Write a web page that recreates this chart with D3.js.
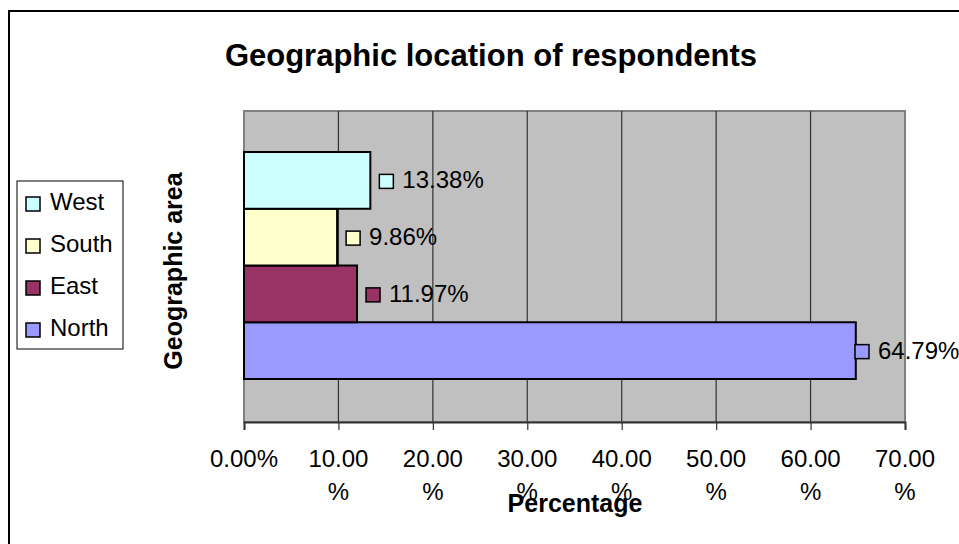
<!DOCTYPE html>
<html>
<head>
<meta charset="utf-8">
<script src="https://cdn.jsdelivr.net/npm/d3@7"></script>
<style>
  body { margin: 0; background: #fff; }
  text { font-family: "Liberation Sans", Arial, sans-serif; fill: #000; }
</style>
</head>
<body>
<div id="chart"></div>
<script>
// chart data
var regions = ["North", "East", "South", "West"];
var percents = [64.79, 11.97, 9.86, 13.38];
var colors = ["#9999ff", "#993366", "#ffffcc", "#ccffff"];
var legendOrder = ["West", "South", "East", "North"];
var xTicks = [0, 10, 20, 30, 40, 50, 60, 70];

var svgWidth = 959;
var svgHeight = 544;

var plot = { left: 244, right: 905, top: 111, bottom: 422 };

var svg = d3.select("#chart")
  .append("svg")
  .attr("width", svgWidth)
  .attr("height", svgHeight);

// outer chart frame (runs off the right and bottom edge)
svg.append("rect")
  .attr("x", 9)
  .attr("y", 11)
  .attr("width", 1000)
  .attr("height", 600)
  .attr("fill", "#fff")
  .attr("stroke", "#000")
  .attr("stroke-width", 2);

svg.append("text")
  .attr("x", 491)
  .attr("y", 66)
  .attr("text-anchor", "middle")
  .style("font-size", "31px")
  .style("font-weight", "bold")
  .text("Geographic location of respondents");

var xScale = d3.scaleLinear()
  .domain([0, 70])
  .range([plot.left, plot.right]);

var yScale = d3.scaleBand()
  .domain(regions)
  .range([379, 152]);

var colorScale = d3.scaleOrdinal()
  .domain(regions)
  .range(colors);

// plot background
svg.append("rect")
  .attr("x", plot.left)
  .attr("y", plot.top)
  .attr("width", plot.right - plot.left)
  .attr("height", plot.bottom - plot.top)
  .attr("fill", "#c0c0c0")
  .attr("stroke", "#808080")
  .attr("stroke-width", 2);

// vertical gridlines
svg.append("g")
  .selectAll("line")
  .data(xTicks.slice(1, -1))
  .enter()
  .append("line")
  .attr("x1", d => xScale(d))
  .attr("x2", d => xScale(d))
  .attr("y1", plot.top)
  .attr("y2", plot.bottom)
  .attr("stroke", "#333")
  .attr("stroke-width", 1.2);

// bars
svg.append("g")
  .selectAll("rect")
  .data(regions)
  .enter()
  .append("rect")
  .attr("x", xScale(0))
  .attr("y", d => yScale(d))
  .attr("width", (d, i) => xScale(percents[i]) - xScale(0))
  .attr("height", yScale.bandwidth())
  .attr("fill", d => colorScale(d))
  .attr("stroke", "#000")
  .attr("stroke-width", 2);

// x axis
var bottomAxis = d3.axisBottom(xScale)
  .tickValues(xTicks)
  .tickSize(8)
  .tickFormat("");

var xAxis = svg.append("g")
  .attr("transform", `translate(0, ${plot.bottom})`)
  .call(bottomAxis);
xAxis.select(".domain").attr("stroke", "#333").attr("stroke-width", 2);
xAxis.selectAll(".tick line").attr("stroke", "#333").attr("stroke-width", 1.2);

// wrapped tick labels like "10.00" / "%"
var tickLabels = svg.append("g")
  .selectAll("text")
  .data(xTicks)
  .enter()
  .append("text")
  .attr("x", d => xScale(d))
  .attr("y", 467)
  .attr("text-anchor", "middle")
  .style("font-size", "24px");

tickLabels.each(function(d) {
  var t = d3.select(this);
  var label = d.toFixed(2);
  if (d === 0) {
    t.text(label + "%");
  } else {
    t.append("tspan").attr("x", xScale(d)).text(label);
    t.append("tspan").attr("x", xScale(d)).attr("dy", 33).text("%");
  }
});

// axis titles
svg.append("text")
  .attr("x", 575)
  .attr("y", 512)
  .attr("text-anchor", "middle")
  .style("font-size", "25px")
  .style("font-weight", "bold")
  .text("Percentage");

svg.append("text")
  .attr("transform", "translate(182, 271) rotate(-90)")
  .attr("text-anchor", "middle")
  .style("font-size", "25px")
  .style("font-weight", "bold")
  .text("Geographic area");

// data labels with small key squares (kept inside the chart on the right)
var labels = svg.append("g")
  .selectAll("g")
  .data(regions)
  .enter()
  .append("g")
  .attr("transform", (d, i) => `translate(${Math.min(xScale(percents[i]) + 9, 855)}, ${yScale(d) + yScale.bandwidth() / 2})`);

labels.append("rect")
  .attr("x", 0)
  .attr("y", -6)
  .attr("width", 14)
  .attr("height", 14)
  .attr("fill", d => colorScale(d))
  .attr("stroke", "#000")
  .attr("stroke-width", 1.5);

labels.append("text")
  .attr("x", 23)
  .attr("y", 8)
  .style("font-size", "24px")
  .text((d, i) => percents[i].toFixed(2) + "%");

// legend
var legend = svg.append("g");
legend.append("rect")
  .attr("x", 17)
  .attr("y", 181)
  .attr("width", 106)
  .attr("height", 168)
  .attr("fill", "#fff")
  .attr("stroke", "#000")
  .attr("stroke-width", 1);

var legendItems = legend.selectAll("g")
  .data(legendOrder)
  .enter()
  .append("g")
  .attr("transform", (d, i) => `translate(26, ${202 + i * 42})`);

legendItems.append("rect")
  .attr("x", 0)
  .attr("y", -5)
  .attr("width", 14)
  .attr("height", 14)
  .attr("fill", d => colorScale(d))
  .attr("stroke", "#000")
  .attr("stroke-width", 1.5);

legendItems.append("text")
  .attr("x", 24)
  .attr("y", 8)
  .style("font-size", "24px")
  .text(d => d);
</script>
</body>
</html>
